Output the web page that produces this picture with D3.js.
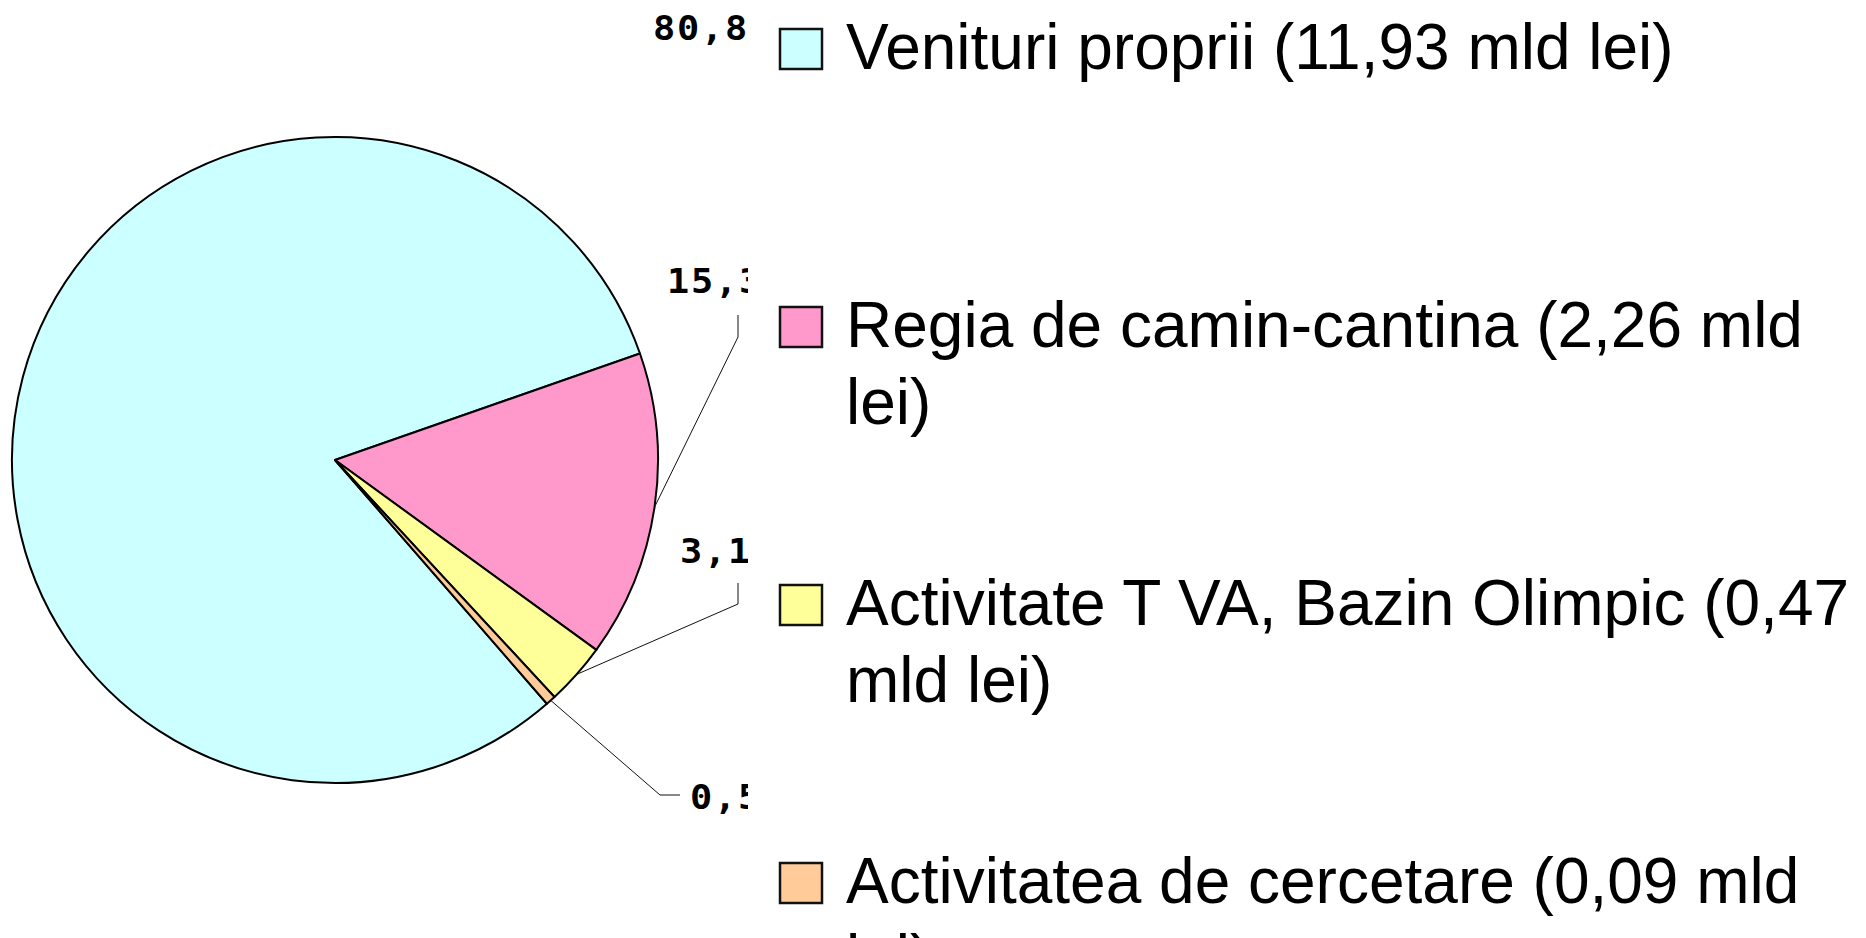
<!DOCTYPE html>
<html lang="ro">
<head>
<meta charset="utf-8">
<title>Venituri</title>
<script src="https://cdnjs.cloudflare.com/ajax/libs/d3/7.8.5/d3.min.js"></script>
<style>
  body { margin: 0; background: #fff; }
  .lbl { font-family: "DejaVu Sans Mono", monospace; font-weight: bold; font-size: 33px; }
  .leg { font-family: "Liberation Sans", Arial, sans-serif; font-size: 64px; fill: #000; }
</style>
</head>
<body>
<div id="chart"></div>
<script>
  // data
  var categories = ["Venituri proprii (11,93 mld lei)",
                    "Regia de camin-cantina (2,26 mld lei)",
                    "Activitate T VA, Bazin Olimpic (0,47 mld lei)",
                    "Activitatea de cercetare (0,09 mld lei)"];
  var percents = [80.8, 15.3, 3.1, 0.5];
  var colors = ["#CCFFFF", "#FF99CC", "#FFFF99", "#FFCC99"];

  var width = 1866, height = 938;
  var cx = 335, cy = 460, radius = 323;

  // label layout (text position + leader elbow), pixel positions
  var labelLayout = [
    { x: 653, y: 40,  elbow: null },
    { x: 667, y: 293, elbow: [[738, 337], [738, 315]] },
    { x: 680, y: 563, elbow: [[738, 604], [738, 583]] },
    { x: 690, y: 809, elbow: [[660, 795], [680, 795]] }
  ];

  var svg = d3.select('#chart').append('svg')
    .attr('width', width)
    .attr('height', height);

  svg.append('rect').attr('width', width).attr('height', height).attr('fill', '#fff');

  var pie = d3.pie().sort(null)
    .startAngle(139 * Math.PI / 180)
    .endAngle(139 * Math.PI / 180 + 2 * Math.PI);
  var arcs = pie(percents);

  var arc = d3.arc().innerRadius(0).outerRadius(radius);

  var g = svg.append('g').attr('transform', 'translate(' + cx + ',' + cy + ')');
  g.selectAll('path')
    .data(arcs)
    .enter().append('path')
    .attr('d', arc)
    .attr('fill', (d, i) => colors[i])
    .attr('stroke', '#000')
    .attr('stroke-width', 2)
    .attr('stroke-linejoin', 'round');

  // leader lines
  arcs.forEach((d, i) => {
    var lay = labelLayout[i];
    if (!lay.elbow) return;
    var a = (d.startAngle + d.endAngle) / 2;
    var p0 = [cx + radius * Math.sin(a), cy - radius * Math.cos(a)];
    svg.append('path')
      .attr('d', d3.line()([p0].concat(lay.elbow)))
      .attr('fill', 'none')
      .attr('stroke', '#111')
      .attr('stroke-width', 1);
  });

  // percent labels, clipped at the plot edge
  svg.append('clipPath').attr('id', 'lblClip')
    .append('rect').attr('x', 0).attr('y', 0).attr('width', 748).attr('height', height);

  var fmt = v => d3.format('.1f')(v).replace('.', ',') + '%';
  svg.append('g').attr('clip-path', 'url(#lblClip)')
    .selectAll('text')
    .data(percents)
    .enter().append('text')
    .attr('class', 'lbl')
    .attr('x', 0)
    .attr('y', 0)
    .attr('transform', (d, i) => 'translate(' + labelLayout[i].x + ',' + labelLayout[i].y + ') scale(1.12,1)')
    .style('letter-spacing', '1.6px')
    .text(d => fmt(d));

  // legend
  var legX = 779, textX = 846, legY0 = 69, legStep = 278, lineH = 77;
  var maxW = width - textX;

  categories.forEach((name, i) => {
    var by = legY0 + i * legStep;
    svg.append('rect')
      .attr('x', legX + 1).attr('y', by - 40)
      .attr('width', 42).attr('height', 40)
      .attr('fill', colors[i])
      .attr('stroke', '#111')
      .attr('stroke-width', 2.5);

    var t = svg.append('text').attr('class', 'leg').attr('x', textX).attr('y', by);
    var words = name.split(' ');
    var line = [];
    var lineNo = 0;
    var ts = t.append('tspan').attr('x', textX).attr('y', by);
    words.forEach(w => {
      line.push(w);
      ts.text(line.join(' '));
      if (ts.node().getComputedTextLength() > maxW && line.length > 1) {
        line.pop();
        ts.text(line.join(' '));
        line = [w];
        lineNo++;
        ts = t.append('tspan').attr('x', textX).attr('y', by + lineNo * lineH).text(w);
      }
    });
  });
</script>
</body>
</html>
